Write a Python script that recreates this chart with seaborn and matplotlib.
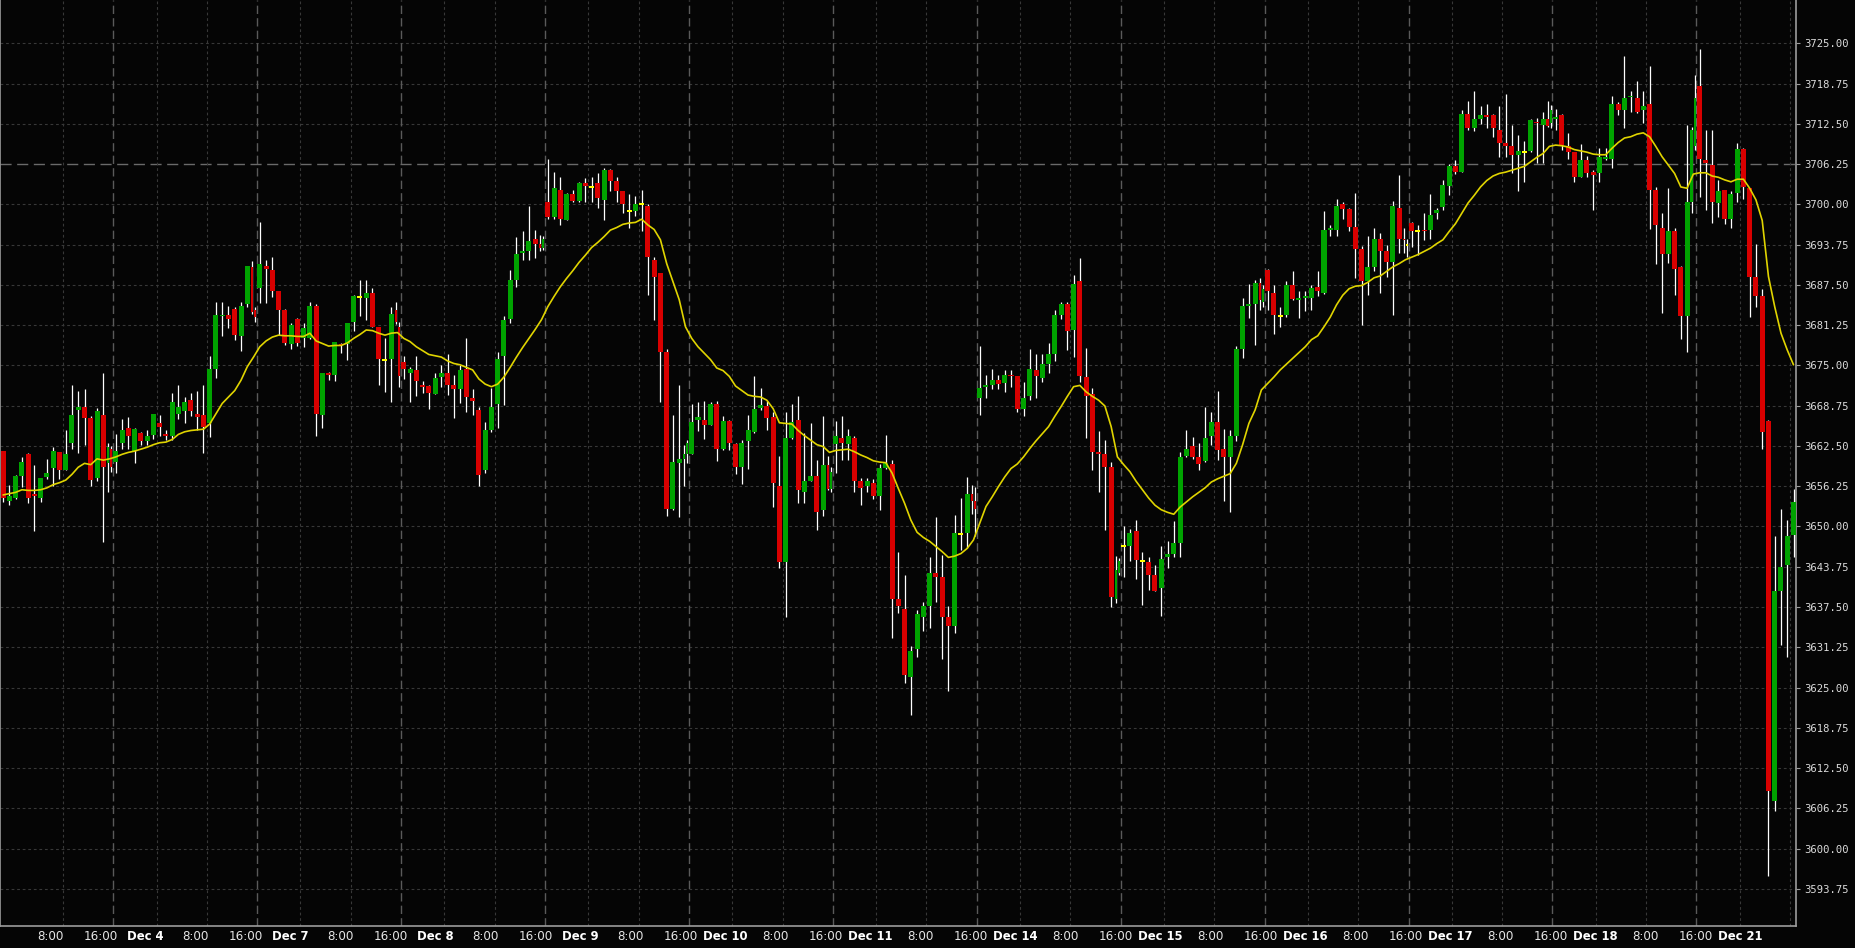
import numpy as np
import pandas as pd
import seaborn as sns
import matplotlib.pyplot as plt

# Hourly candles, Dec 3 - Dec 21. The last slot of every session holds two short bars.
opens = [
    3661.7, 3653.9, 3654.4, 3657.9, 3661.2, 3655.1, 3654.4, 3657.7, 3659.1, 3661.5, 3658.8, 3663.0, 3668.1, 3668.5, 3666.8, 3657.5, 3667.3, 3659.8, 3662.1,
    3660.0, 3663.0, 3665.3, 3661.7, 3664.5, 3663.3, 3664.2, 3666.0, 3664.4, 3664.0, 3667.4, 3668.0, 3669.7, 3667.4, 3667.3, 3666.1, 3674.4, 3682.7, 3682.8, 3683.7, 3679.6, 3684.6, 3690.3, 3683.6,
    3687.0, 3690.5, 3689.8, 3686.5, 3683.6, 3678.3, 3682.2, 3679.3, 3679.2, 3684.2, 3667.3, 3673.9, 3673.5, 3678.4, 3678.4, 3681.7, 3685.6, 3685.5, 3686.2, 3680.9, 3675.8, 3676.0, 3683.6, 3680.9,
    3675.5, 3673.9, 3674.3, 3672.0, 3671.8, 3670.6, 3673.2, 3673.8, 3672.0, 3671.4, 3674.5, 3670.0, 3668.1, 3658.8, 3665.0, 3669.0, 3676.5, 3682.2, 3688.3, 3692.4, 3692.8, 3694.6, 3693.9, 3693.3,
    3700.4, 3698.1, 3702.2, 3697.6, 3701.6, 3700.5, 3703.3, 3702.7, 3703.3, 3700.6, 3705.4, 3703.6, 3702.0, 3699.0, 3698.9, 3700.0, 3699.7, 3691.4, 3689.3, 3677.1, 3652.7, 3659.8, 3660.5, 3661.3,
    3661.3, 3666.5, 3666.5, 3665.8, 3669.0, 3662.0, 3666.3, 3662.8, 3659.2, 3663.3, 3664.6, 3668.4, 3668.7, 3667.0, 3656.3, 3644.5, 3663.7, 3666.5, 3655.3, 3657.1, 3657.9, 3652.6, 3659.5, 3655.8,
    3662.8, 3663.7, 3662.8, 3663.7, 3657.0, 3656.3, 3656.8, 3654.7, 3659.1, 3659.7, 3638.8, 3637.2, 3626.7, 3631.0, 3636.0, 3637.6, 3642.8, 3642.1, 3635.9, 3634.5, 3648.9, 3649.0, 3655.1, 3653.9,
    3670.0, 3671.6, 3671.9, 3672.7, 3672.3, 3673.5, 3673.3, 3668.3, 3670.3, 3674.3, 3673.1, 3675.2, 3676.8, 3682.8, 3684.5, 3680.5, 3688.1, 3673.2, 3670.6, 3661.6, 3661.3, 3659.3, 3638.8, 3642.8,
    3646.9, 3647.0, 3649.3, 3644.7, 3644.5, 3642.5, 3640.4, 3645.3, 3645.7, 3647.5, 3661.0, 3662.5, 3660.8, 3660.1, 3664.1, 3666.2, 3662.0, 3660.8, 3664.1, 3677.6, 3684.2, 3684.6, 3687.8, 3684.9,
    3689.8, 3686.2, 3682.7, 3682.8, 3687.5, 3685.2, 3685.5, 3685.5, 3687.1, 3686.2, 3696.0, 3696.0, 3700.1, 3699.3, 3696.5, 3693.1, 3688.1, 3690.3, 3694.6, 3692.7, 3691.1, 3699.5, 3694.7, 3693.7,
    3697.1, 3695.9, 3696.0, 3696.0, 3698.6, 3699.6, 3702.9, 3705.9, 3705.1, 3714.0, 3711.9, 3713.3, 3713.9, 3713.9, 3711.5, 3709.5, 3709.1, 3707.6, 3708.1, 3708.3, 3712.8, 3712.3, 3713.3, 3712.6,
    3713.3, 3713.9, 3709.1, 3708.1, 3704.3, 3706.9, 3705.1, 3704.9, 3707.1, 3707.1, 3715.6, 3714.7, 3716.6, 3716.5, 3714.6, 3715.6, 3702.2, 3696.4, 3692.3, 3695.9, 3690.3, 3682.6, 3700.4, 3709.0,
    3718.4, 3706.9, 3706.1, 3700.2, 3702.2, 3697.7, 3701.7, 3708.6, 3702.5, 3688.7, 3685.8, 3666.3, 3607.4, 3640.0, 3644.1, 3648.7,
]
highs = [
    3661.7, 3656.4, 3658.0, 3660.8, 3661.4, 3659.5, 3657.6, 3660.4, 3662.3, 3661.6, 3664.9, 3671.9, 3671.0, 3671.3, 3667.2, 3668.4, 3673.9, 3662.9, 3662.5,
    3664.4, 3666.7, 3667.0, 3665.3, 3664.6, 3664.9, 3667.5, 3667.3, 3664.9, 3670.7, 3671.9, 3670.1, 3670.7, 3671.0, 3671.9, 3676.4, 3684.9, 3684.9, 3684.2, 3684.1, 3684.9, 3690.5, 3691.2, 3684.0,
    3697.2, 3691.4, 3691.9, 3686.6, 3683.7, 3681.6, 3682.3, 3681.6, 3684.8, 3684.5, 3673.9, 3674.0, 3678.7, 3678.5, 3681.6, 3685.9, 3688.3, 3688.3, 3687.0, 3681.0, 3679.2, 3684.1, 3684.8, 3681.8,
    3676.5, 3674.8, 3676.4, 3672.6, 3671.9, 3673.9, 3675.0, 3676.8, 3673.5, 3675.0, 3679.2, 3671.4, 3668.6, 3666.2, 3671.5, 3677.1, 3682.6, 3689.8, 3695.0, 3695.9, 3699.7, 3696.0, 3695.2, 3695.1,
    3707.0, 3705.0, 3704.2, 3701.8, 3702.2, 3703.4, 3704.1, 3704.2, 3704.8, 3705.7, 3705.5, 3704.2, 3702.1, 3701.6, 3701.3, 3702.2, 3700.1, 3691.9, 3689.4, 3677.5, 3667.3, 3671.9, 3662.7, 3663.4,
    3669.0, 3669.3, 3669.5, 3669.4, 3669.5, 3667.1, 3666.5, 3662.9, 3663.5, 3667.3, 3673.3, 3671.5, 3669.5, 3667.8, 3660.9, 3667.8, 3669.0, 3670.3, 3664.5, 3666.0, 3660.3, 3667.1, 3660.9, 3659.3,
    3666.3, 3667.1, 3665.2, 3664.0, 3657.5, 3657.5, 3657.4, 3659.7, 3664.2, 3660.3, 3646.1, 3642.5, 3631.4, 3637.0, 3638.3, 3645.3, 3651.5, 3645.5, 3637.6, 3651.8, 3654.4, 3657.7, 3656.4, 3656.2,
    3678.0, 3673.5, 3674.5, 3673.5, 3674.3, 3674.3, 3673.4, 3672.5, 3677.5, 3676.7, 3676.7, 3678.5, 3683.6, 3684.9, 3684.9, 3689.0, 3691.6, 3677.7, 3671.5, 3664.8, 3663.5, 3660.0, 3645.4, 3645.1,
    3650.0, 3649.6, 3651.0, 3646.0, 3645.3, 3644.0, 3647.0, 3647.8, 3650.8, 3661.6, 3665.0, 3663.9, 3662.9, 3668.5, 3667.7, 3671.0, 3665.2, 3665.0, 3678.0, 3685.4, 3687.7, 3688.3, 3688.5, 3687.5,
    3689.9, 3687.5, 3684.1, 3688.1, 3689.6, 3686.6, 3686.5, 3687.5, 3689.6, 3698.9, 3696.8, 3700.8, 3700.4, 3699.4, 3701.7, 3693.5, 3695.1, 3696.3, 3695.6, 3693.7, 3700.5, 3704.6, 3696.4, 3694.7,
    3697.3, 3696.8, 3698.6, 3701.6, 3699.4, 3703.8, 3706.3, 3706.9, 3714.6, 3716.0, 3717.6, 3715.2, 3715.6, 3714.0, 3715.2, 3717.1, 3712.3, 3710.8, 3709.8, 3713.2, 3713.4, 3714.4, 3716.0, 3715.4,
    3714.8, 3714.0, 3711.0, 3708.2, 3709.4, 3707.5, 3705.3, 3708.8, 3708.7, 3716.8, 3715.9, 3723.0, 3717.6, 3719.2, 3717.6, 3721.4, 3702.7, 3698.6, 3702.6, 3696.4, 3690.4, 3712.3, 3712.0, 3720.1,
    3724.1, 3711.5, 3711.5, 3703.8, 3702.3, 3702.0, 3709.6, 3708.7, 3702.6, 3693.9, 3686.9, 3666.5, 3648.6, 3652.7, 3651.0, 3655.8,
]
lows = [
    3653.8, 3653.3, 3654.2, 3656.1, 3653.6, 3649.3, 3653.8, 3657.4, 3656.3, 3657.3, 3658.7, 3662.1, 3661.4, 3662.7, 3656.3, 3657.0, 3647.6, 3655.4, 3658.5,
    3658.3, 3662.1, 3662.1, 3659.9, 3662.6, 3662.6, 3663.6, 3664.0, 3663.4, 3663.4, 3666.7, 3666.1, 3667.1, 3664.9, 3661.4, 3663.9, 3673.0, 3679.5, 3680.8, 3679.0, 3677.3, 3684.0, 3683.0, 3681.7,
    3684.7, 3684.7, 3685.6, 3679.8, 3678.2, 3677.5, 3678.0, 3677.9, 3679.1, 3664.0, 3665.3, 3672.8, 3672.6, 3677.0, 3675.8, 3680.3, 3682.6, 3682.1, 3681.0, 3671.9, 3670.9, 3669.4, 3681.5, 3671.7,
    3672.9, 3669.4, 3670.2, 3670.7, 3668.2, 3670.5, 3671.7, 3670.4, 3666.9, 3669.2, 3667.7, 3667.3, 3656.3, 3658.3, 3664.7, 3665.3, 3668.9, 3681.6, 3687.2, 3691.4, 3691.4, 3691.6, 3692.7, 3692.9,
    3697.7, 3697.8, 3696.8, 3697.5, 3700.4, 3700.4, 3700.4, 3700.3, 3699.5, 3697.5, 3702.0, 3700.3, 3698.7, 3696.4, 3698.2, 3695.8, 3685.9, 3682.0, 3669.4, 3651.7, 3652.6, 3651.4, 3656.3, 3659.9,
    3661.2, 3664.8, 3663.6, 3665.7, 3660.2, 3661.9, 3661.9, 3658.2, 3656.6, 3659.0, 3664.5, 3668.1, 3664.9, 3653.1, 3643.6, 3635.9, 3663.6, 3653.6, 3653.7, 3657.0, 3649.5, 3651.6, 3655.7, 3655.4,
    3658.3, 3660.3, 3660.3, 3655.4, 3653.3, 3655.4, 3654.2, 3652.5, 3659.0, 3632.7, 3636.6, 3625.7, 3620.8, 3629.8, 3633.8, 3634.3, 3638.3, 3629.4, 3624.4, 3633.4, 3646.4, 3646.6, 3652.0, 3648.5,
    3667.3, 3669.9, 3671.4, 3671.4, 3670.9, 3671.7, 3667.7, 3667.2, 3669.7, 3669.9, 3672.5, 3673.9, 3675.7, 3682.2, 3677.4, 3676.3, 3672.5, 3663.7, 3658.8, 3655.4, 3649.4, 3637.5, 3638.2, 3642.5,
    3642.1, 3644.7, 3641.8, 3637.8, 3640.1, 3640.0, 3636.1, 3643.5, 3645.3, 3645.3, 3660.8, 3660.5, 3658.7, 3660.0, 3662.7, 3660.3, 3653.9, 3652.2, 3663.2, 3676.1, 3682.3, 3678.2, 3683.6, 3684.1,
    3683.6, 3679.9, 3680.9, 3682.5, 3685.2, 3682.3, 3683.5, 3683.6, 3685.7, 3686.1, 3695.1, 3695.1, 3697.8, 3695.9, 3688.5, 3681.2, 3685.9, 3689.6, 3686.2, 3688.8, 3682.8, 3692.4, 3692.4, 3691.8,
    3693.4, 3692.2, 3694.5, 3694.7, 3697.8, 3699.1, 3701.4, 3704.7, 3705.0, 3711.5, 3711.4, 3712.5, 3711.9, 3710.5, 3707.4, 3707.4, 3704.9, 3702.0, 3703.5, 3708.2, 3706.4, 3706.4, 3712.0, 3711.8,
    3711.6, 3708.4, 3707.1, 3703.5, 3704.2, 3704.3, 3699.1, 3703.5, 3706.9, 3705.7, 3713.9, 3711.9, 3714.4, 3714.2, 3712.7, 3696.2, 3690.7, 3683.2, 3690.9, 3686.0, 3679.1, 3677.1, 3698.7, 3708.5,
    3701.2, 3699.1, 3697.1, 3698.1, 3697.0, 3696.4, 3700.4, 3700.9, 3682.5, 3684.0, 3662.0, 3595.8, 3605.9, 3631.6, 3629.8, 3645.2,
]
closes = [
    3654.4, 3654.7, 3657.9, 3660.0, 3654.4, 3654.8, 3657.5, 3658.3, 3661.7, 3658.8, 3661.2, 3667.3, 3668.5, 3666.8, 3657.2, 3668.0, 3659.2, 3662.4, 3659.2,
    3661.7, 3664.9, 3664.1, 3665.2, 3663.3, 3664.1, 3667.4, 3665.4, 3664.0, 3669.3, 3668.6, 3669.3, 3668.0, 3667.0, 3665.4, 3674.4, 3682.8, 3682.9, 3682.2, 3679.7, 3684.2, 3690.5, 3683.3, 3682.5,
    3690.7, 3689.9, 3686.5, 3683.6, 3678.5, 3681.2, 3678.5, 3680.8, 3684.2, 3667.5, 3673.8, 3673.5, 3678.7, 3678.1, 3681.6, 3685.7, 3685.6, 3686.2, 3681.0, 3676.0, 3675.8, 3683.0, 3681.8, 3673.3,
    3674.5, 3674.5, 3672.6, 3671.6, 3670.7, 3673.1, 3673.9, 3671.9, 3671.4, 3674.3, 3670.1, 3669.5, 3658.0, 3665.0, 3668.6, 3676.0, 3682.1, 3688.3, 3692.3, 3692.7, 3694.3, 3693.9, 3693.3, 3694.6,
    3698.1, 3702.5, 3697.7, 3701.6, 3700.5, 3703.3, 3702.9, 3702.7, 3701.0, 3705.4, 3703.7, 3702.1, 3700.1, 3699.0, 3700.1, 3700.0, 3691.9, 3688.8, 3677.1, 3652.7, 3660.0, 3660.5, 3661.3, 3663.0,
    3666.2, 3667.0, 3665.8, 3669.0, 3662.0, 3666.3, 3663.0, 3659.2, 3662.9, 3665.0, 3668.2, 3668.8, 3666.9, 3656.8, 3644.5, 3663.7, 3666.2, 3655.6, 3657.0, 3657.9, 3652.3, 3659.5, 3655.8, 3658.4,
    3664.0, 3663.0, 3664.0, 3657.1, 3656.0, 3657.0, 3654.7, 3659.1, 3659.8, 3638.8, 3637.6, 3626.9, 3630.7, 3636.4, 3637.7, 3642.8, 3642.1, 3635.9, 3634.5, 3649.0, 3648.9, 3655.1, 3653.9, 3652.7,
    3671.5, 3671.9, 3672.7, 3672.1, 3673.5, 3673.3, 3668.3, 3669.9, 3674.5, 3673.3, 3675.2, 3676.7, 3682.8, 3684.5, 3680.4, 3687.7, 3673.3, 3670.3, 3661.6, 3661.3, 3659.3, 3639.1, 3643.3, 3644.6,
    3646.9, 3649.0, 3644.8, 3644.7, 3642.5, 3640.0, 3645.0, 3645.7, 3647.4, 3660.8, 3662.1, 3660.8, 3659.7, 3663.8, 3666.2, 3661.8, 3660.8, 3664.1, 3677.6, 3684.2, 3684.5, 3687.8, 3685.1, 3686.8,
    3686.6, 3682.8, 3682.7, 3687.5, 3685.3, 3685.5, 3685.8, 3687.0, 3686.6, 3696.0, 3696.3, 3699.8, 3699.3, 3696.5, 3693.1, 3688.1, 3690.3, 3694.7, 3692.8, 3691.1, 3699.8, 3694.7, 3694.4, 3693.7,
    3695.9, 3695.9, 3695.8, 3698.4, 3699.2, 3703.0, 3705.9, 3705.1, 3714.0, 3711.9, 3713.3, 3713.9, 3713.6, 3711.9, 3709.5, 3709.1, 3707.6, 3708.3, 3708.1, 3713.1, 3712.6, 3713.3, 3712.1, 3714.6,
    3713.6, 3709.2, 3708.2, 3704.3, 3706.9, 3704.9, 3704.5, 3707.4, 3707.4, 3715.6, 3714.7, 3716.5, 3716.8, 3714.4, 3715.3, 3702.2, 3696.8, 3692.3, 3695.9, 3690.0, 3682.6, 3700.3, 3711.6, 3716.5,
    3707.1, 3706.4, 3700.4, 3702.1, 3697.7, 3701.6, 3708.6, 3702.7, 3688.7, 3685.8, 3664.7, 3608.9, 3640.0, 3643.7, 3648.5, 3653.8,
]

# moving average, one value per hourly slot
ma_values = [
    3654.9, 3655.1, 3655.3, 3655.7, 3655.6, 3655.6, 3655.7, 3656.0, 3656.5, 3656.8, 3657.2, 3658.1, 3659.2, 3659.8, 3659.6, 3660.5, 3660.3, 3660.5,
    3660.8, 3661.2, 3661.5, 3661.7, 3662.0, 3662.3, 3662.7, 3663.0, 3663.1, 3663.5, 3664.3, 3664.7, 3664.9, 3665.0, 3665.1, 3665.9, 3667.5, 3669.1, 3670.1, 3671.1, 3672.7, 3674.8, 3676.3,
    3677.9, 3678.8, 3679.4, 3679.7, 3679.6, 3679.6, 3679.5, 3679.5, 3680.0, 3678.8, 3678.4, 3678.0, 3678.1, 3678.1, 3678.5, 3679.2, 3679.8, 3680.5, 3680.4, 3680.0, 3679.7, 3680.0, 3680.1,
    3679.2, 3678.7, 3677.9, 3677.3, 3676.7, 3676.5, 3676.3, 3675.7, 3675.3, 3675.1, 3674.7, 3674.3, 3672.9, 3672.1, 3671.7, 3672.1, 3673.2, 3674.7, 3676.3, 3677.8, 3679.2, 3680.6, 3682.1,
    3684.1, 3685.7, 3687.2, 3688.5, 3689.7, 3691.0, 3692.1, 3693.3, 3694.1, 3695.0, 3696.0, 3696.4, 3696.9, 3697.1, 3697.2, 3697.7, 3696.8, 3696.1, 3694.5, 3690.8, 3688.0, 3685.2, 3681.0,
    3679.2, 3677.9, 3676.9, 3675.9, 3674.6, 3674.2, 3673.3, 3671.8, 3671.1, 3670.4, 3670.2, 3670.1, 3669.6, 3668.3, 3666.1, 3666.0, 3665.9, 3664.9, 3664.1, 3663.4, 3662.7, 3662.4, 3661.5,
    3661.8, 3661.9, 3662.0, 3661.6, 3661.1, 3660.7, 3660.2, 3660.0, 3659.9, 3658.3, 3655.9, 3653.6, 3651.0, 3649.1, 3648.3, 3647.7, 3646.9, 3646.1, 3645.2, 3645.4, 3645.8, 3646.6, 3647.9,
    3650.5, 3653.1, 3654.6, 3656.2, 3657.7, 3659.0, 3659.7, 3660.8, 3662.1, 3663.3, 3664.4, 3665.5, 3667.1, 3668.6, 3670.2, 3671.7, 3671.9, 3670.9, 3670.2, 3669.6, 3668.7, 3665.5, 3660.8,
    3659.6, 3658.5, 3657.0, 3655.7, 3654.4, 3653.3, 3652.6, 3652.2, 3651.9, 3653.0, 3653.8, 3654.6, 3655.3, 3656.0, 3656.9, 3657.4, 3657.8, 3658.2, 3659.8, 3662.7, 3666.0, 3668.1, 3671.2,
    3672.2, 3673.2, 3674.3, 3675.2, 3676.1, 3677.0, 3677.9, 3679.0, 3679.6, 3681.0, 3682.5, 3684.4, 3685.9, 3686.9, 3687.3, 3687.4, 3687.9, 3688.6, 3688.9, 3689.6, 3690.3, 3690.8, 3691.4,
    3691.8, 3692.2, 3692.7, 3693.2, 3693.9, 3694.5, 3695.8, 3697.0, 3698.6, 3700.2, 3701.4, 3702.7, 3703.7, 3704.4, 3704.8, 3705.0, 3705.3, 3705.6, 3705.9, 3706.6, 3707.3, 3707.9, 3709.0,
    3709.2, 3709.1, 3708.9, 3708.5, 3708.3, 3708.1, 3707.8, 3707.7, 3707.7, 3708.7, 3709.6, 3710.3, 3710.5, 3710.9, 3711.1, 3710.5, 3709.0, 3707.4, 3706.1, 3704.8, 3702.7, 3702.5, 3704.7,
    3704.9, 3704.9, 3704.4, 3704.2, 3703.8, 3703.5, 3703.9, 3703.9, 3702.5, 3700.7, 3697.5, 3688.8, 3684.1, 3680.0, 3677.4, 3675.1,
]

session_dates = ['Dec 4', 'Dec 7', 'Dec 8', 'Dec 9', 'Dec 10', 'Dec 11',
                 'Dec 14', 'Dec 15', 'Dec 16', 'Dec 17', 'Dec 18', 'Dec 21']
price_ticks = np.arange(3593.75, 3725.01, 6.25)
marked_level = 3706.25

BG = '#050505'
UP = '#00a300'
DOWN = '#d80000'
DOJI = '#ffff00'
MA_COLOR = '#e0d400'
GRID = '#383838'
FRAME = '#9c9c9c'

# slot layout: 23 hourly slots per session, first session break after slot 17
first_break = 18
sess_len = 23
n_slots = len(ma_values)
split_slots = set(range(first_break - 1, n_slots, sess_len))
xs, widths = [], []
for k in range(n_slots):
    if k in split_slots:
        xs += [k - 0.25, k + 0.25]
        widths += [0.42, 0.42]
    else:
        xs.append(k)
        widths.append(0.8)

df = pd.DataFrame({'x': xs, 'w': widths, 'open': opens, 'high': highs,
                   'low': lows, 'close': closes})

sns.set_style('dark', {'axes.facecolor': BG, 'figure.facecolor': BG})
plt.rcParams['font.family'] = ['DejaVu Sans']

fig = plt.figure(figsize=(18.55, 9.48), dpi=100)
ax = fig.add_axes([0, 1 - 926 / 948, 1795.7 / 1855, 926 / 948])
ax.set_facecolor(BG)

# grid
for p in price_ticks:
    if abs(p - marked_level) < 1e-6:
        ax.axhline(p, color='#6a6a6a', lw=1.0, ls=(0, (8, 4)), zorder=0)
    else:
        ax.axhline(p, color=GRID, lw=0.8, ls=(0, (2.5, 2.5)), zorder=0)

breaks = list(range(first_break, n_slots + 1, sess_len))
minor_lines = [first_break - 8]
for b in breaks:
    minor_lines += [b + 7, b + 15]
for b in minor_lines:
    if b <= n_slots:
        ax.axvline(b - 0.5, color=GRID, lw=0.8, ls=(0, (2.5, 2.5)), zorder=0)
for b in breaks:
    ax.axvline(b - 0.5, color='#5a5a5a', lw=1.0, ls=(0, (6, 3)), zorder=0)

# wicks
ax.vlines(df['x'], df['low'], df['high'], color='white', lw=0.9, zorder=2)

# bodies
up = df[df['close'] > df['open']]
dn = df[df['close'] < df['open']]
eq = df[df['close'] == df['open']]
ax.bar(up['x'], np.maximum(up['close'] - up['open'], 0.2), bottom=up['open'],
       width=up['w'], color=UP, lw=0, zorder=3)
ax.bar(dn['x'], np.maximum(dn['open'] - dn['close'], 0.2), bottom=dn['close'],
       width=dn['w'], color=DOWN, lw=0, zorder=3)
ax.bar(eq['x'], 0.32, bottom=eq['open'] - 0.16, width=eq['w'], color=DOJI,
       lw=0, zorder=3)

# moving average
ma_df = pd.DataFrame({'slot': np.arange(n_slots), 'ma': ma_values})
sns.lineplot(data=ma_df, x='slot', y='ma', color=MA_COLOR, lw=1.2, ax=ax, zorder=4)

ax.set_xlim(-0.5, 286.35)
ax.set_ylim(3587.99, 3731.72)

# y axis on the right
ax.yaxis.tick_right()
ax.set_yticks(price_ticks)
ax.set_yticklabels([f'{p:.2f}' for p in price_ticks], family='DejaVu Sans Mono',
                   fontsize=7.6, color='#dcdcdc')
ax.tick_params(axis='y', length=3, width=0.8, color=FRAME, pad=3)

# time labels
label_pos, label_txt, label_bold = [], [], []
def add_label(b, text, bold):
    # labels drift slightly left of their grid line towards the left edge
    label_pos.append(b - 0.5 - 2.0 * (1 - b / 278))
    label_txt.append(text)
    label_bold.append(bold)

add_label(first_break - 8, '8:00', False)
for m, b in enumerate(breaks):
    if m >= len(session_dates):
        break
    add_label(b, '16:00', False)
    add_label(b + 7, session_dates[m], True)
    if b + 15 < n_slots - 3:
        add_label(b + 15, '8:00', False)

ax.set_xticks(label_pos)
ax.set_xticklabels(label_txt, fontsize=8.6, color='#e6e6e6')
for lbl, bold in zip(ax.get_xticklabels(), label_bold):
    if bold:
        lbl.set_fontweight('bold')
        lbl.set_fontsize(8.4)
        lbl.set_color('white')
ax.tick_params(axis='x', length=0, pad=3)

ax.set_xlabel('')
ax.set_ylabel('')
ax.grid(False)
for side in ['left', 'right', 'bottom']:
    ax.spines[side].set_visible(True)
    ax.spines[side].set_color(FRAME)
    ax.spines[side].set_linewidth(1.2)
ax.spines['top'].set_visible(False)

fig.savefig('out.png', dpi=100, facecolor=BG)
